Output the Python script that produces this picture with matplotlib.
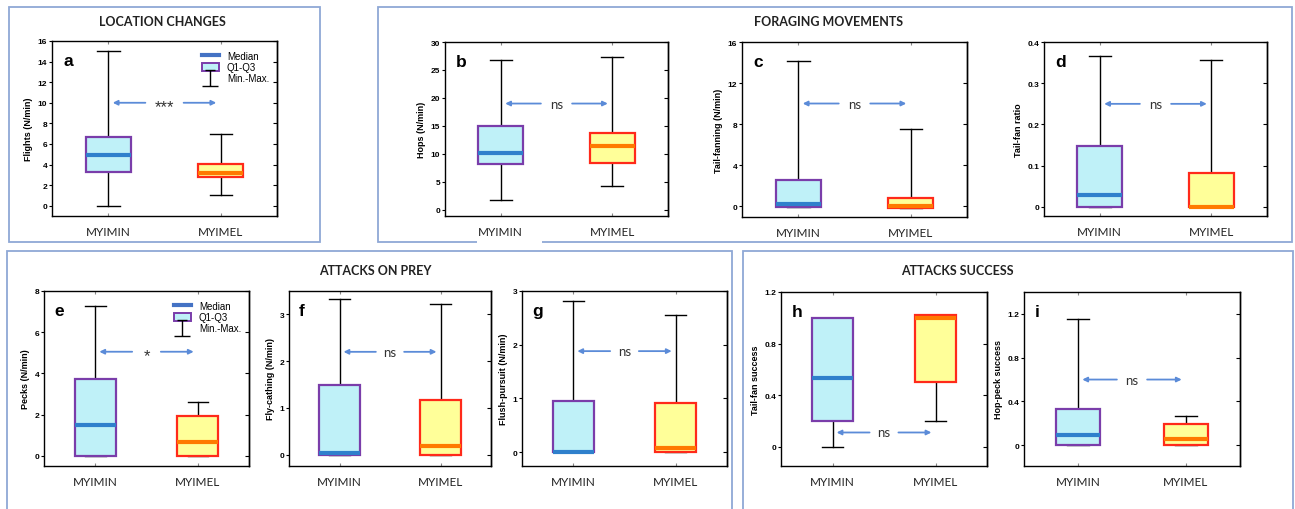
import matplotlib
matplotlib.use("Agg")
import matplotlib.pyplot as plt
from matplotlib.patches import Rectangle, Patch
from matplotlib.lines import Line2D
from matplotlib.path import Path

# ---- data ----
groups = ["MYIMIN", "MYIMEL"]

# each entry: [min, q1, median, q3, max] for MYIMIN, MYIMEL
flights = [[0.0, 3.3, 4.9, 6.7, 15.0], [1.0, 2.8, 3.2, 4.1, 7.0]]
hops = [[1.8, 8.2, 10.1, 14.9, 26.8], [4.3, 8.4, 11.4, 13.7, 27.3]]
tailfan = [[-0.1, -0.1, 0.2, 2.5, 14.1], [-0.2, -0.2, 0.0, 0.8, 7.5]]
tailratio = [[0.0, 0.0, 0.03, 0.147, 0.365], [0.0, 0.0, 0.0, 0.083, 0.357]]
pecks = [[0.0, 0.0, 1.5, 3.75, 7.25], [0.0, 0.0, 0.68, 1.95, 2.62]]
flycatch = [[0.0, 0.0, 0.03, 1.5, 3.32], [0.0, 0.0, 0.18, 1.18, 3.23]]
flush = [[0.0, 0.0, 0.01, 0.95, 2.82], [0.0, 0.0, 0.08, 0.91, 2.56]]
tf_success = [[0.0, 0.2, 0.53, 1.0, 1.0], [0.2, 0.5, 1.0, 1.02, 1.02]]
hp_success = [[0.0, 0.0, 0.09, 0.33, 1.15], [0.0, 0.0, 0.06, 0.19, 0.27]]

signif = ["***", "ns", "ns", "ns", "*", "ns", "ns", "ns", "ns"]

W, H = 1295, 510
fig = plt.figure(figsize=(W / 100, H / 100), dpi=100)

blue_arrow = "#5B8BD8"
frame_col = "#8FA8D6"
face = ["#BFF1F8", "#FFFF99"]
edge = ["#7A3DAA", "#FF2A1A"]
medc = ["#2F80CC", "#FF7A00"]


def ax_at(l, r, t, b):
    return fig.add_axes([l / W, (H - b) / H, (r - l) / W, (b - t) / H])


def frame(l, r, t, b, title, tx, ty):
    fig.patches.append(Rectangle((l / W, (H - b) / H), (r - l) / W, (b - t) / H,
                                 transform=fig.transFigure, fill=False,
                                 edgecolor=frame_col, lw=1.3))
    fig.text(tx / W, (H - ty) / H, title, ha="center", va="center",
             fontsize=9, fontweight="bold", family="Lato", color="#222222")


def panel(ax, data, ylim, yticks, ylabel, letter, sig, arrow_y, legend=False):
    for i, d in enumerate(data):
        s = dict(whislo=d[0], q1=d[1], med=d[2], q3=d[3], whishi=d[4], fliers=[])
        ax.bxp([s], positions=[i + 1], widths=0.4, showfliers=False,
               patch_artist=True, capwidths=0.2,
               boxprops=dict(facecolor=face[i], edgecolor=edge[i], lw=1.6, zorder=3),
               medianprops=dict(color=medc[i], lw=3, solid_capstyle="butt", zorder=4),
               whiskerprops=dict(color="black", lw=1, zorder=2),
               capprops=dict(color="black", lw=1, zorder=2))
    ax.set_xlim(0.5, 2.5)
    ax.set_ylim(*ylim)
    ax.set_yticks(yticks)
    ax.set_yticklabels([("%g" % v) for v in yticks], fontsize=6,
                       fontweight="bold", family="Liberation Sans")
    ax.set_xticks([1, 2])
    ax.set_xticklabels(groups, fontsize=8.5, family="Lato", color="#222222")
    ax.tick_params(axis="x", direction="in", length=2, top=True, pad=7, color="#888888")
    ax.tick_params(axis="y", direction="out", length=2, pad=1.5)
    # right-hand ticks point inwards
    sec = ax.secondary_yaxis("right")
    sec.set_yticks(yticks)
    sec.tick_params(direction="in", length=3, labelright=False)
    sec.spines["right"].set_linewidth(1)
    ax.set_ylabel(ylabel, fontsize=6.5, fontweight="bold", family="Liberation Sans", labelpad=3)
    for sp in ax.spines.values():
        sp.set_linewidth(1)
    ax.text(0.05, 0.93, letter, transform=ax.transAxes, fontsize=12.5,
            fontweight="bold", family="Liberation Sans", va="top", ha="left")
    # significance arrows
    gap = 0.17 if sig == "***" else 0.14
    ap = dict(arrowstyle="-|>", color=blue_arrow, lw=1.3, mutation_scale=7,
              shrinkA=0, shrinkB=0)
    ax.annotate("", xy=(1.04, arrow_y), xytext=(1.5 - gap, arrow_y), arrowprops=ap)
    ax.annotate("", xy=(1.96, arrow_y), xytext=(1.5 + gap, arrow_y), arrowprops=ap)
    if "*" in sig:
        ax.annotate(sig, (1.5, arrow_y), xytext=(0, -2.5), textcoords="offset points",
                    ha="center", va="center", fontsize=12, family="Liberation Sans",
                    color="#333333")
    else:
        ax.text(1.5, arrow_y, sig, ha="center", va="center", fontsize=9.5,
                family="Lato", color="#333333")
    if legend:
        ibeam = Path([(-0.6, 1), (0.6, 1), (0, 1), (0, -1), (-1, -1), (1, -1)],
                     [Path.MOVETO, Path.LINETO, Path.MOVETO, Path.LINETO,
                      Path.MOVETO, Path.LINETO])
        handles = [Line2D([], [], color="#4472C4", lw=3),
                   Patch(facecolor=face[0], edgecolor=edge[0], lw=1.4),
                   Line2D([], [], ls="none", marker=ibeam, markersize=12,
                          markeredgecolor="black", markerfacecolor="none", mew=1)]
        ax.legend(handles, ["Median", "Q1-Q3", "Min.-Max."], loc="upper right",
                  bbox_to_anchor=(1.0, 0.99), frameon=False,
                  prop=dict(family="Liberation Sans", size=7),
                  handlelength=1.8, handleheight=0.9, labelspacing=0.15,
                  borderpad=0.3, handletextpad=0.8)


# group frames and titles
frame(9, 320, 8, 243, "LOCATION CHANGES", 162, 22)
frame(378, 1292, 8, 243, "FORAGING MOVEMENTS", 829, 22)
frame(7, 732, 252, 520, "ATTACKS ON PREY", 375, 271)
frame(743, 1293, 252, 520, "ATTACKS SUCCESS", 957, 271)
# small white patch breaking the foraging frame, as in the source figure
fig.patches.append(Rectangle((477 / W, (H - 246) / H), 65 / W, 6 / H,
                             transform=fig.transFigure, facecolor="white",
                             edgecolor="none", zorder=5))

panel(ax_at(52, 277, 42, 217), flights, (-1, 16), [0, 2, 4, 6, 8, 10, 12, 14, 16],
      "Flights (N/min)", "a", signif[0], 10, legend=True)
panel(ax_at(445, 668, 43, 217), hops, (-1.1, 30), [0, 5, 10, 15, 20, 25, 30],
      "Hops (N/min)", "b", signif[1], 19)
panel(ax_at(742, 967, 43, 218), tailfan, (-1.07, 16), [0, 4, 8, 12, 16],
      "Tail-fanning (N/min)", "c", signif[2], 10)
panel(ax_at(1044, 1267, 43, 217), tailratio, (-0.022, 0.4), [0, 0.1, 0.2, 0.3, 0.4],
      "Tail-fan ratio", "d", signif[3], 0.25)
panel(ax_at(44, 249, 292, 467), pecks, (-0.5, 8), [0, 2, 4, 6, 8],
      "Pecks (N/min)", "e", signif[4], 5.05, legend=True)
panel(ax_at(289, 491, 292, 467), flycatch, (-0.24, 3.5), [0, 1, 2, 3],
      "Fly-cathing (N/min)", "f", signif[5], 2.2)
panel(ax_at(522, 727, 292, 467), flush, (-0.26, 3), [0, 1, 2, 3],
      "Flush-pursuit (N/min)", "g", signif[6], 1.88)
panel(ax_at(781, 987, 293, 467), tf_success, (-0.15, 1.2), [0, 0.4, 0.8, 1.2],
      "Tail-fan success", "h", signif[7], 0.11)
panel(ax_at(1024, 1240, 293, 467), hp_success, (-0.19, 1.4), [0, 0.4, 0.8, 1.2],
      "Hop-peck success", "i", signif[8], 0.6)

fig.savefig("out.png", dpi=100)
